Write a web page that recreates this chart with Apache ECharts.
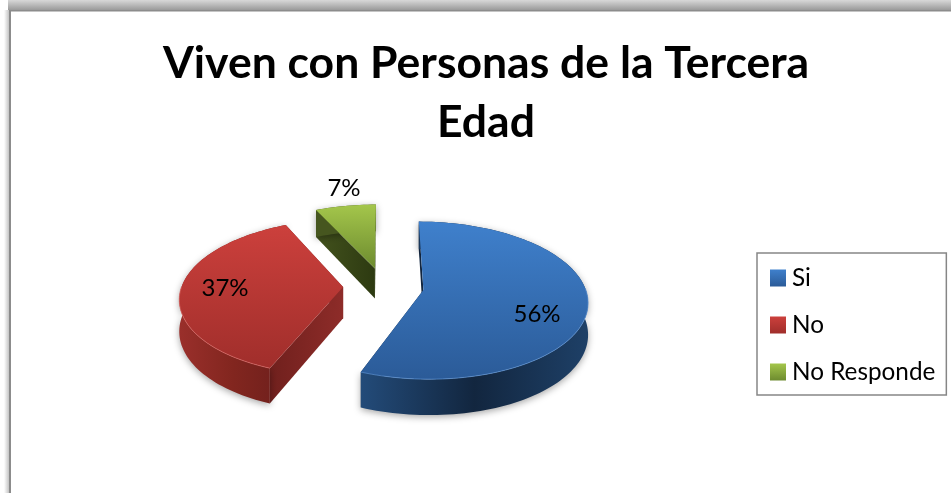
<!DOCTYPE html>
<html>
<head>
<meta charset="utf-8">
<title>Viven con Personas de la Tercera Edad</title>
<script src="https://cdn.jsdelivr.net/npm/echarts@6/dist/echarts.min.js"></script>
<style>
  html,body{margin:0;padding:0;background:#fff;}
  #main{width:951px;height:493px;}
</style>
</head>
<body>
<div id="main"></div>
<script>
  var categories = ['Si', 'No', 'No Responde'];
  var values = [56, 37, 7];

  // pie layout: a flat disc seen in perspective, slices pulled out of the centre
  var CX = 383.5, CY = 286.5, RX = 161.5, RY = 76.5, PERSP = 0.13, EXPLODE = 0.25, DEPTH = 31;
  var labelPos = [[537, 314], [225, 288], [344, 188]];
  var FONT = 'Lato, "Noto Sans", sans-serif';

  var topColors = [['#3f80cc', '#2b5b98'], ['#cc403c', '#a02e2b'], ['#a4c64b', '#6d8b2f']];
  var bandColors = [['#234b79', '#12263f', '#1e4067'], ['#9a2f2b', '#82261f', '#6e1f1c'], ['#46561f', '#46561f', '#46561f']];
  var wallColors = [['#12263f', '#12263f'], ['#70201d', '#8e2c29'], ['#43521d', '#2d3a11']];
  var rimColors = ['#5c93d4', '#da6a66', '#b8d46e'];

  var total = values.reduce(function (a, b) { return a + b; }, 0);

  function project(u, v) {
    var w = 1 - PERSP * v;
    return [CX + RX * u / w, CY + RY * v / w, w];
  }
  function drop(p) {
    return [p[0], p[1] + DEPTH / p[2]];
  }
  function linear(x2, y2, colors) {
    return {
      type: 'linear', x: 0, y: 0, x2: x2, y2: y2,
      colorStops: colors.map(function (c, i) {
        return {offset: i / (colors.length - 1), color: c};
      })
    };
  }

  function renderSlice(index) {
    return function (params, api) {
      var before = values.slice(0, index).reduce(function (a, b) { return a + b; }, 0);
      var a0 = before / total * Math.PI * 2;
      var a1 = (before + api.value(0)) / total * Math.PI * 2;
      var mid = (a0 + a1) / 2;
      var ax = EXPLODE * Math.sin(mid), ay = -EXPLODE * Math.cos(mid);
      var apex = project(ax, ay);
      var rim = [];
      var steps = Math.ceil((a1 - a0) / 0.03);
      for (var i = 0; i <= steps; i++) {
        var t = a0 + (a1 - a0) * i / steps;
        rim.push(project(ax + Math.sin(t), ay - Math.cos(t)));
      }
      var first = rim[0], last = rim[rim.length - 1];
      var xy = function (p) { return [p[0], p[1]]; };
      var band = rim.map(xy).concat(rim.slice().reverse().map(drop));
      // only the near part of the rim catches the light
      var nearRim = rim.filter(function (p) { return p[2] < 1; }).map(xy);
      var children = [
        {type: 'polygon', shape: {points: [xy(apex), xy(first), drop(first), drop(apex)]},
          style: {fill: linear(1, 0, wallColors[index])}},
        {type: 'polygon', shape: {points: [xy(apex), xy(last), drop(last), drop(apex)]},
          style: {fill: linear(1, 0, wallColors[index])}},
        {type: 'polygon', shape: {points: band}, style: {
          fill: linear(1, 0, bandColors[index]),
          shadowBlur: 7, shadowColor: 'rgba(0,0,0,0.35)', shadowOffsetY: 2
        }},
        {type: 'polygon', shape: {points: [xy(apex)].concat(rim.map(xy))},
          style: {fill: linear(0, 1, topColors[index])}},
        {type: 'polyline', shape: {points: nearRim},
          style: {fill: null, stroke: rimColors[index], lineWidth: 1, opacity: 0.7}},
        {type: 'text', x: labelPos[index][0], y: labelPos[index][1], style: {
          text: Math.round(api.value(0) / total * 100) + '%',
          align: 'center', verticalAlign: 'middle',
          fontSize: 24, fontFamily: FONT, fill: '#000'
        }}
      ];
      return {type: 'group', children: children};
    };
  }

  var chart = echarts.init(document.getElementById('main'));
  chart.setOption({
    animation: false,
    backgroundColor: '#fff',
    title: {
      text: 'Viven con Personas de la Tercera\nEdad',
      left: 481, top: 29, textAlign: 'center',
      textStyle: {fontFamily: FONT, fontSize: 44.5, fontWeight: 'bold', color: '#000', lineHeight: 59}
    },
    legend: {
      orient: 'vertical', left: 757, top: 253,
      padding: [13, 11, 11, 13],
      borderColor: '#868686', borderWidth: 1.5, backgroundColor: '#fff',
      itemWidth: 16, itemHeight: 17, itemGap: 23,
      textStyle: {fontFamily: FONT, fontSize: 24.3, color: '#000', padding: [0, 0, 0, 1]},
      data: categories.map(function (name, i) {
        return {name: name, icon: 'rect', itemStyle: {color: linear(0, 1, topColors[i]), borderWidth: 0}};
      })
    },
    graphic: [
      {type: 'rect', shape: {x: 4, y: 10, width: 5, height: 483}, style: {fill: linear(1, 0, ['#ffffff', '#c4c4c4'])}},
      {type: 'rect', shape: {x: 8, y: 0, width: 943, height: 10}, style: {fill: linear(0, 1, ['#d8d8d8', '#9a9a9a'])}},
      {type: 'rect', shape: {x: 9, y: 10, width: 2, height: 483}, style: {fill: '#8c8c8c'}},
      {type: 'rect', shape: {x: 9, y: 10, width: 942, height: 1.5}, style: {fill: '#8c8c8c'}}
    ],
    series: categories.map(function (name, i) {
      return {
        type: 'custom', name: name, coordinateSystem: 'none',
        renderItem: renderSlice(i),
        itemStyle: {color: topColors[i][0]},
        silent: true,
        data: [[values[i]]]
      };
    })
  });
</script>
</body>
</html>
